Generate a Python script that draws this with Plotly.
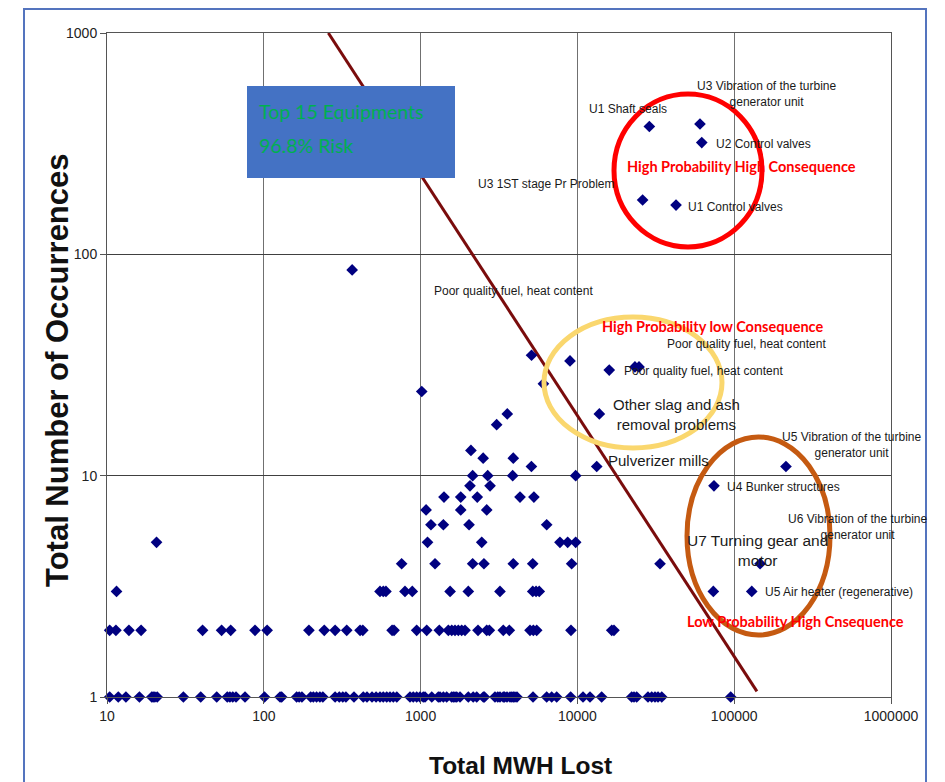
import plotly.graph_objects as go

# ---------------- data ----------------
occ_1 = [10.4, 11.8, 13.2, 16.1, 19.3, 19.7, 20.2, 20.9, 30.7, 39.6, 50.1, 58.5, 60.8, 63.4, 66.5, 75.9,
         101, 127, 130, 162, 168, 175, 199, 207, 217, 228, 238, 285, 303, 319, 334, 376, 431, 455, 490,
         520, 551, 578, 608, 638, 670, 705, 856, 898, 944, 991, 1040, 1067, 1178, 1297, 1330, 1397, 1467,
         1579, 1617, 1657, 1700, 1784, 2015, 2165, 2280, 2512, 2554, 2981, 3106, 3208, 3368, 3430, 3556,
         3716, 3816, 3902, 3996, 4117, 5212, 6370, 6855, 7378, 9057, 10860, 12030, 14280, 22190, 22960,
         23890, 28200, 29780, 31260, 32680, 34510, 95000]
occ_2 = [10.4, 11.4, 13.8, 16.5, 40.7, 53.8, 61.5, 87.9, 105, 194, 243, 285, 338, 411, 428, 658, 677,
         944, 1094, 1316, 1503, 1580, 1657, 1740, 1828, 1919, 2323, 2641, 2744, 3368, 3680, 4987, 5237,
         5500, 9100, 16560, 17110]
occ_3 = [11.5, 551, 578, 601, 795, 885, 1542, 2015, 3208, 5190, 5450, 5710, 73600, 129400]
occ_4 = [757, 1236, 2148, 2535, 3900, 5190, 9190, 33650, 146200]
occ_5 = [20.7, 1107, 2454, 7740, 8670, 9750]
occ_6 = [1164, 1397, 2037, 6370]
occ_7 = [1084, 1803, 2641]
occ_8 = [1410, 1803, 2298, 4305, 5280]
occ_9 = [2065, 2773, 74300]
occ_10 = [2148, 2679, 3866, 9750]
occ_11 = [5090, 13280, 213800]
occ_12 = [2506, 3900]
# remaining single points: (MWH lost, occurrences)
other_mwh = [2094, 3055, 3571, 13800, 1017, 6070, 15960, 23280, 24720, 8970, 5100, 366,
             42560, 26060, 62100, 28770, 60500]
other_occ = [13, 17, 19, 19, 24, 26, 30, 31, 31, 33, 35, 85,
             167, 176, 320, 378, 388]

risk_line_mwh = [258, 139600]
risk_line_occ = [1000, 1.06]

x_tick_vals = [10, 100, 1000, 10000, 100000, 1000000]
x_tick_text = ["10", "100", "1000", "10000", "100000", "1000000"]
y_tick_vals = [1, 10, 100, 1000]
y_tick_text = ["1", "10", "100", "1000"]

rows = [(1, occ_1), (2, occ_2), (3, occ_3), (4, occ_4), (5, occ_5), (6, occ_6), (7, occ_7),
        (8, occ_8), (9, occ_9), (10, occ_10), (11, occ_11), (12, occ_12)]
mwh, occ = [], []
for level, vals in rows:
    mwh += vals
    occ += [level] * len(vals)
mwh += other_mwh
occ += other_occ

# ---------------- figure ----------------
OFF = 8                      # page body margin
W, H = 945 - OFF, 782 - OFF  # figure size
L, R, T, B = 107, 891, 33, 697   # plot area in screen pixels


def px(x):
    return (x - L) / (R - L)


def py(y):
    return (B - y) / (B - T)


fig = go.Figure()
fig.add_trace(go.Scatter(x=risk_line_mwh, y=risk_line_occ, mode="lines",
                         line=dict(color="#7A0C0C", width=3), hoverinfo="skip", showlegend=False))
fig.add_trace(go.Scatter(x=mwh, y=occ, mode="markers", cliponaxis=False,
                         marker=dict(symbol="diamond", size=9, color="#000080", line=dict(width=0)),
                         showlegend=False))

narrow = "Liberation Sans Narrow, Arial Narrow, Liberation Sans, Arial"
annos = []


def label(text, x, y, anchor="left", size=12, color="#1a1a1a", family=narrow, bold=False, angle=0):
    if bold:
        text = "<b>" + text + "</b>"
    annos.append(dict(text=text, x=px(x), y=py(y), xref="paper", yref="paper", xanchor=anchor,
                      yanchor="middle", showarrow=False, align="center", textangle=angle,
                      font=dict(size=size, color=color, family=family)))


label("U1 Shaft seals", 628, 109, "center")
label("U3 Vibration of the turbine<br>generator unit", 767, 94, "center")
label("U2 Control valves", 714, 144)
label("U3 1ST stage Pr Problem", 617, 184, "right")
label("U1 Control valves", 686, 207)
label("Poor quality fuel, heat content", 513, 291, "center")
label("Poor quality fuel, heat content", 746, 344, "center")
label("Poor quality fuel, heat content", 622, 371)
label("Other slag and ash<br>removal problems", 676, 414, "center", size=15)
label("Pulverizer mills", 606, 460, size=15)
label("U5 Vibration of the turbine<br>generator unit", 852, 445, "center")
label("U4 Bunker structures", 725, 487)
label("U6 Vibration of the turbine<br>generator unit", 858, 527, "center")
label("U7 Turning gear and<br>motor", 757, 550, "center", size=15.5)
label("U5 Air heater (regenerative)", 763, 592)

red_font = "Lato, Open Sans, sans-serif"
label("High Probability High Consequence", 625, 167, size=14.5, color="#FF0000", family=red_font, bold=True)
label("High Probability low Consequence", 600, 327, size=14.5, color="#FF0000", family=red_font, bold=True)
label("Low Probability High Cnsequence", 685, 621, size=14.5, color="#FF0000", family=red_font, bold=True)

label("Top 15 Equipments", 257, 111, size=19.5, color="#00B050", family=red_font)
label("96.8% Risk", 257, 145, size=19.5, color="#00B050", family=red_font)

# axis titles
label("Total MWH Lost", 520, 765, "center", size=24.5, color="#111",
      family="Liberation Sans, Arial", bold=True)
label("Total Number of Occurrences", 57, 370, "center", size=31, color="#111",
      family="Liberation Sans, Arial", bold=True, angle=-90)

shapes = [
    # outer frame
    dict(type="rect", xref="paper", yref="paper", x0=px(24), x1=px(926), y0=py(800), y1=py(9),
         line=dict(color="#5474BE", width=2), layer="below"),
    # blue text box
    dict(type="rect", xref="paper", yref="paper", x0=px(247), x1=px(455), y0=py(178), y1=py(86),
         fillcolor="#4472C4", line=dict(width=0)),
    # circles
    dict(type="circle", xref="paper", yref="paper", x0=px(614), x1=px(762), y0=py(247), y1=py(94),
         line=dict(color="#FF0000", width=5)),
    dict(type="circle", xref="paper", yref="paper", x0=px(544), x1=px(722), y0=py(448), y1=py(317),
         line=dict(color="#FAD76E", width=5)),
    dict(type="circle", xref="paper", yref="paper", x0=px(687), x1=px(830), y0=py(635), y1=py(437),
         line=dict(color="#C55A11", width=5)),
]

fig.update_layout(
    width=W, height=H,
    margin=dict(l=L - OFF, r=W - (R - OFF), t=T - OFF, b=H - (B - OFF)),
    paper_bgcolor="white", plot_bgcolor="white",
    annotations=annos, shapes=shapes,
    font=dict(family="Liberation Sans, Arial", color="#222"),
)
fig.update_xaxes(type="log", range=[1, 6], tickvals=x_tick_vals, ticktext=x_tick_text,
                 showgrid=True, gridcolor="#707070", gridwidth=1,
                 showline=True, linecolor="#555", linewidth=1, mirror=True,
                 ticks="outside", ticklen=6, tickcolor="#555",
                 tickfont=dict(size=14, color="#222", family="Liberation Sans, Arial"),
                 zeroline=False)
fig.update_yaxes(type="log", range=[0, 3], tickvals=y_tick_vals, ticktext=y_tick_text,
                 showgrid=True, gridcolor="#404040", gridwidth=1,
                 showline=True, linecolor="#555", linewidth=1, mirror=True,
                 ticks="outside", ticklen=6, tickcolor="#555",
                 tickfont=dict(size=14, color="#222", family="Liberation Sans, Arial"),
                 zeroline=False)

fig.write_html("out.html")
